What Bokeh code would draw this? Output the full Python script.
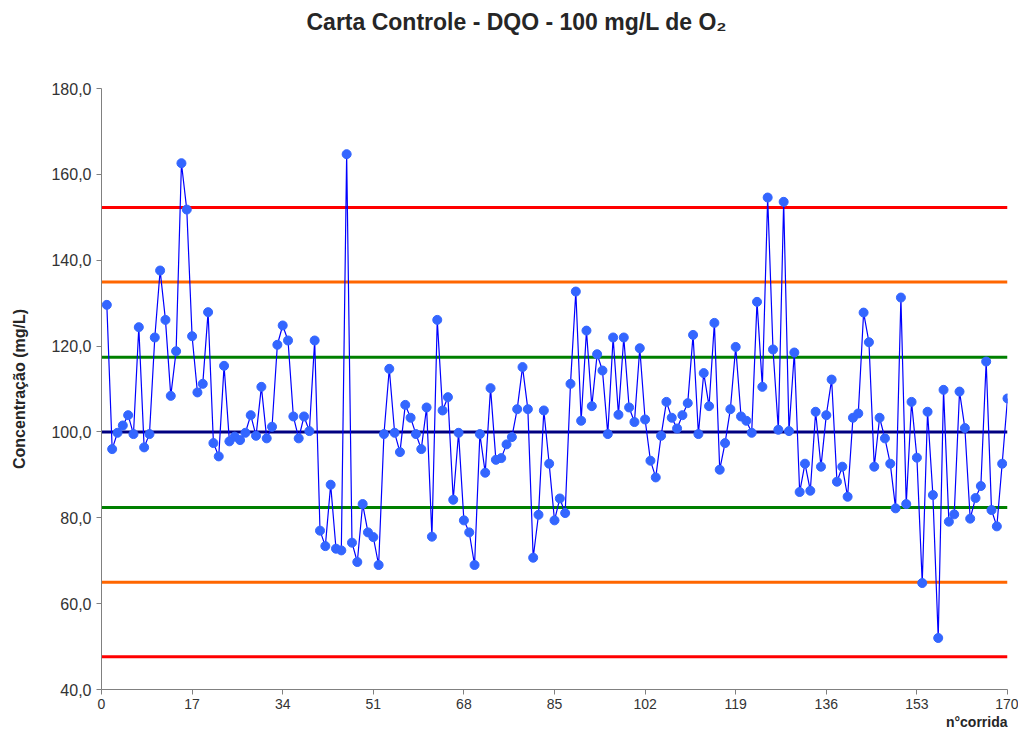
from bokeh.plotting import figure
from bokeh.models import FixedTicker, CustomJSTickFormatter, Title, Range1d
from bokeh.embed import file_html
from bokeh.resources import INLINE

# ---- data ----
run = list(range(1, 171))
dqo = [
    129.6, 96.0, 99.8, 101.5, 103.9, 99.5, 124.4, 96.4, 99.5, 122.0,
    137.6, 126.1, 108.4, 118.8, 162.6, 151.8, 122.3, 109.2, 111.2, 127.9,
    97.4, 94.3, 115.4, 97.8, 98.9, 98.1, 99.8, 103.9, 99.1, 110.5,
    98.5, 101.2, 120.3, 124.8, 121.3, 103.6, 98.5, 103.6, 100.2, 121.3,
    77.0, 73.4, 87.7, 72.8, 72.4, 164.7, 74.2, 69.7, 83.2, 76.6,
    75.5, 69.0, 99.5, 114.7, 99.8, 95.3, 106.3, 103.3, 99.5, 96.0,
    105.7, 75.6, 126.1, 105.0, 108.1, 84.2, 99.8, 79.4, 76.6, 69.0,
    99.5, 90.5, 110.2, 93.5, 93.9, 97.1, 98.8, 105.3, 115.1, 105.3,
    70.7, 80.7, 105.0, 92.6, 79.4, 84.5, 81.1, 111.2, 132.7, 102.6,
    123.6, 106.0, 118.1, 114.3, 99.5, 122.0, 104.0, 122.0, 105.7, 102.3,
    119.5, 102.9, 93.3, 89.4, 99.1, 107.0, 103.3, 100.8, 103.9, 106.7,
    122.6, 99.5, 113.7, 106.0, 125.4, 91.2, 97.4, 105.3, 119.8, 103.6,
    102.6, 99.8, 130.3, 110.5, 154.6, 119.2, 100.5, 153.6, 100.2, 118.5,
    86.0, 92.6, 86.3, 104.7, 91.9, 103.9, 112.2, 88.4, 91.9, 84.9,
    103.3, 104.3, 127.8, 120.9, 91.9, 103.3, 98.5, 92.6, 82.2, 131.3,
    83.2, 107.0, 94.0, 64.8, 104.7, 85.3, 52.0, 109.8, 79.1, 80.8,
    109.4, 100.9, 79.8, 84.6, 87.4, 116.4, 81.8, 78.0, 92.6, 107.8,
]
limit_values = [152.3, 134.9, 117.4, 100.0, 82.4, 65.0, 47.6]
limit_colors = ["#FF0000", "#FF6600", "#008000", "#000080", "#008000", "#FF6600", "#FF0000"]
x_ticks = [0, 17, 34, 51, 68, 85, 102, 119, 136, 153, 170]
y_ticks = [40, 60, 80, 100, 120, 140, 160, 180]

FONT = "Liberation Sans"

p = figure(width=1018, height=729, output_backend="svg", toolbar_location=None,
           title=None,
           x_range=Range1d(0, 170), y_range=Range1d(40, 180),
           min_border_left=101, min_border_right=11, min_border_top=88, min_border_bottom=39)

spacer = Title(text=" ", text_font_size="38px", standoff=10)
main_title = Title(text="Carta Controle - DQO - 100 mg/L de O\u2082", align="left", offset=205,
                   text_font=FONT, text_font_size="23px", text_font_style="bold",
                   text_color="#262626", standoff=0)
p.add_layout(spacer, "above")
p.add_layout(main_title, "above")

p.background_fill_color = "white"
p.border_fill_color = "white"
p.outline_line_color = None
p.xgrid.grid_line_color = None
p.ygrid.grid_line_color = None

for v, c in zip(limit_values, limit_colors):
    p.line([0, 170], [v, v], line_color=c, line_width=3)

p.line(run, dqo, line_color="#0000FF", line_width=1.2)
p.scatter(run, dqo, size=9, fill_color="#3366FF", line_color="#3366FF")

for ax in (p.xaxis[0], p.yaxis[0]):
    ax.axis_line_color = "#808080"
    ax.major_tick_line_color = "#808080"
    ax.minor_tick_line_color = None
    ax.major_tick_in = 0
    ax.major_tick_out = 5
    ax.major_label_text_font = FONT
    ax.major_label_text_color = "#333333"

p.xaxis.ticker = FixedTicker(ticks=x_ticks)
p.yaxis.ticker = FixedTicker(ticks=y_ticks)
p.yaxis.formatter = CustomJSTickFormatter(code="return tick.toFixed(1).replace('.', ',');")
p.xaxis.major_label_text_font_size = "14px"
p.yaxis.major_label_text_font_size = "16px"
p.xaxis.major_label_standoff = 4
p.yaxis.major_label_standoff = 5

p.yaxis.axis_label = "Concentração (mg/L)"
p.yaxis.axis_label_text_font = FONT
p.yaxis.axis_label_text_font_size = "16px"
p.yaxis.axis_label_text_font_style = "bold"
p.yaxis.axis_label_text_color = "#262626"
p.yaxis.axis_label_standoff = 20

xlab = Title(text="n°corrida", align="right", text_font=FONT, text_font_size="14px",
             text_font_style="bold", text_color="#262626", standoff=0)
p.add_layout(xlab, "below")

open("out.html", "w").write(file_html(p, INLINE))
